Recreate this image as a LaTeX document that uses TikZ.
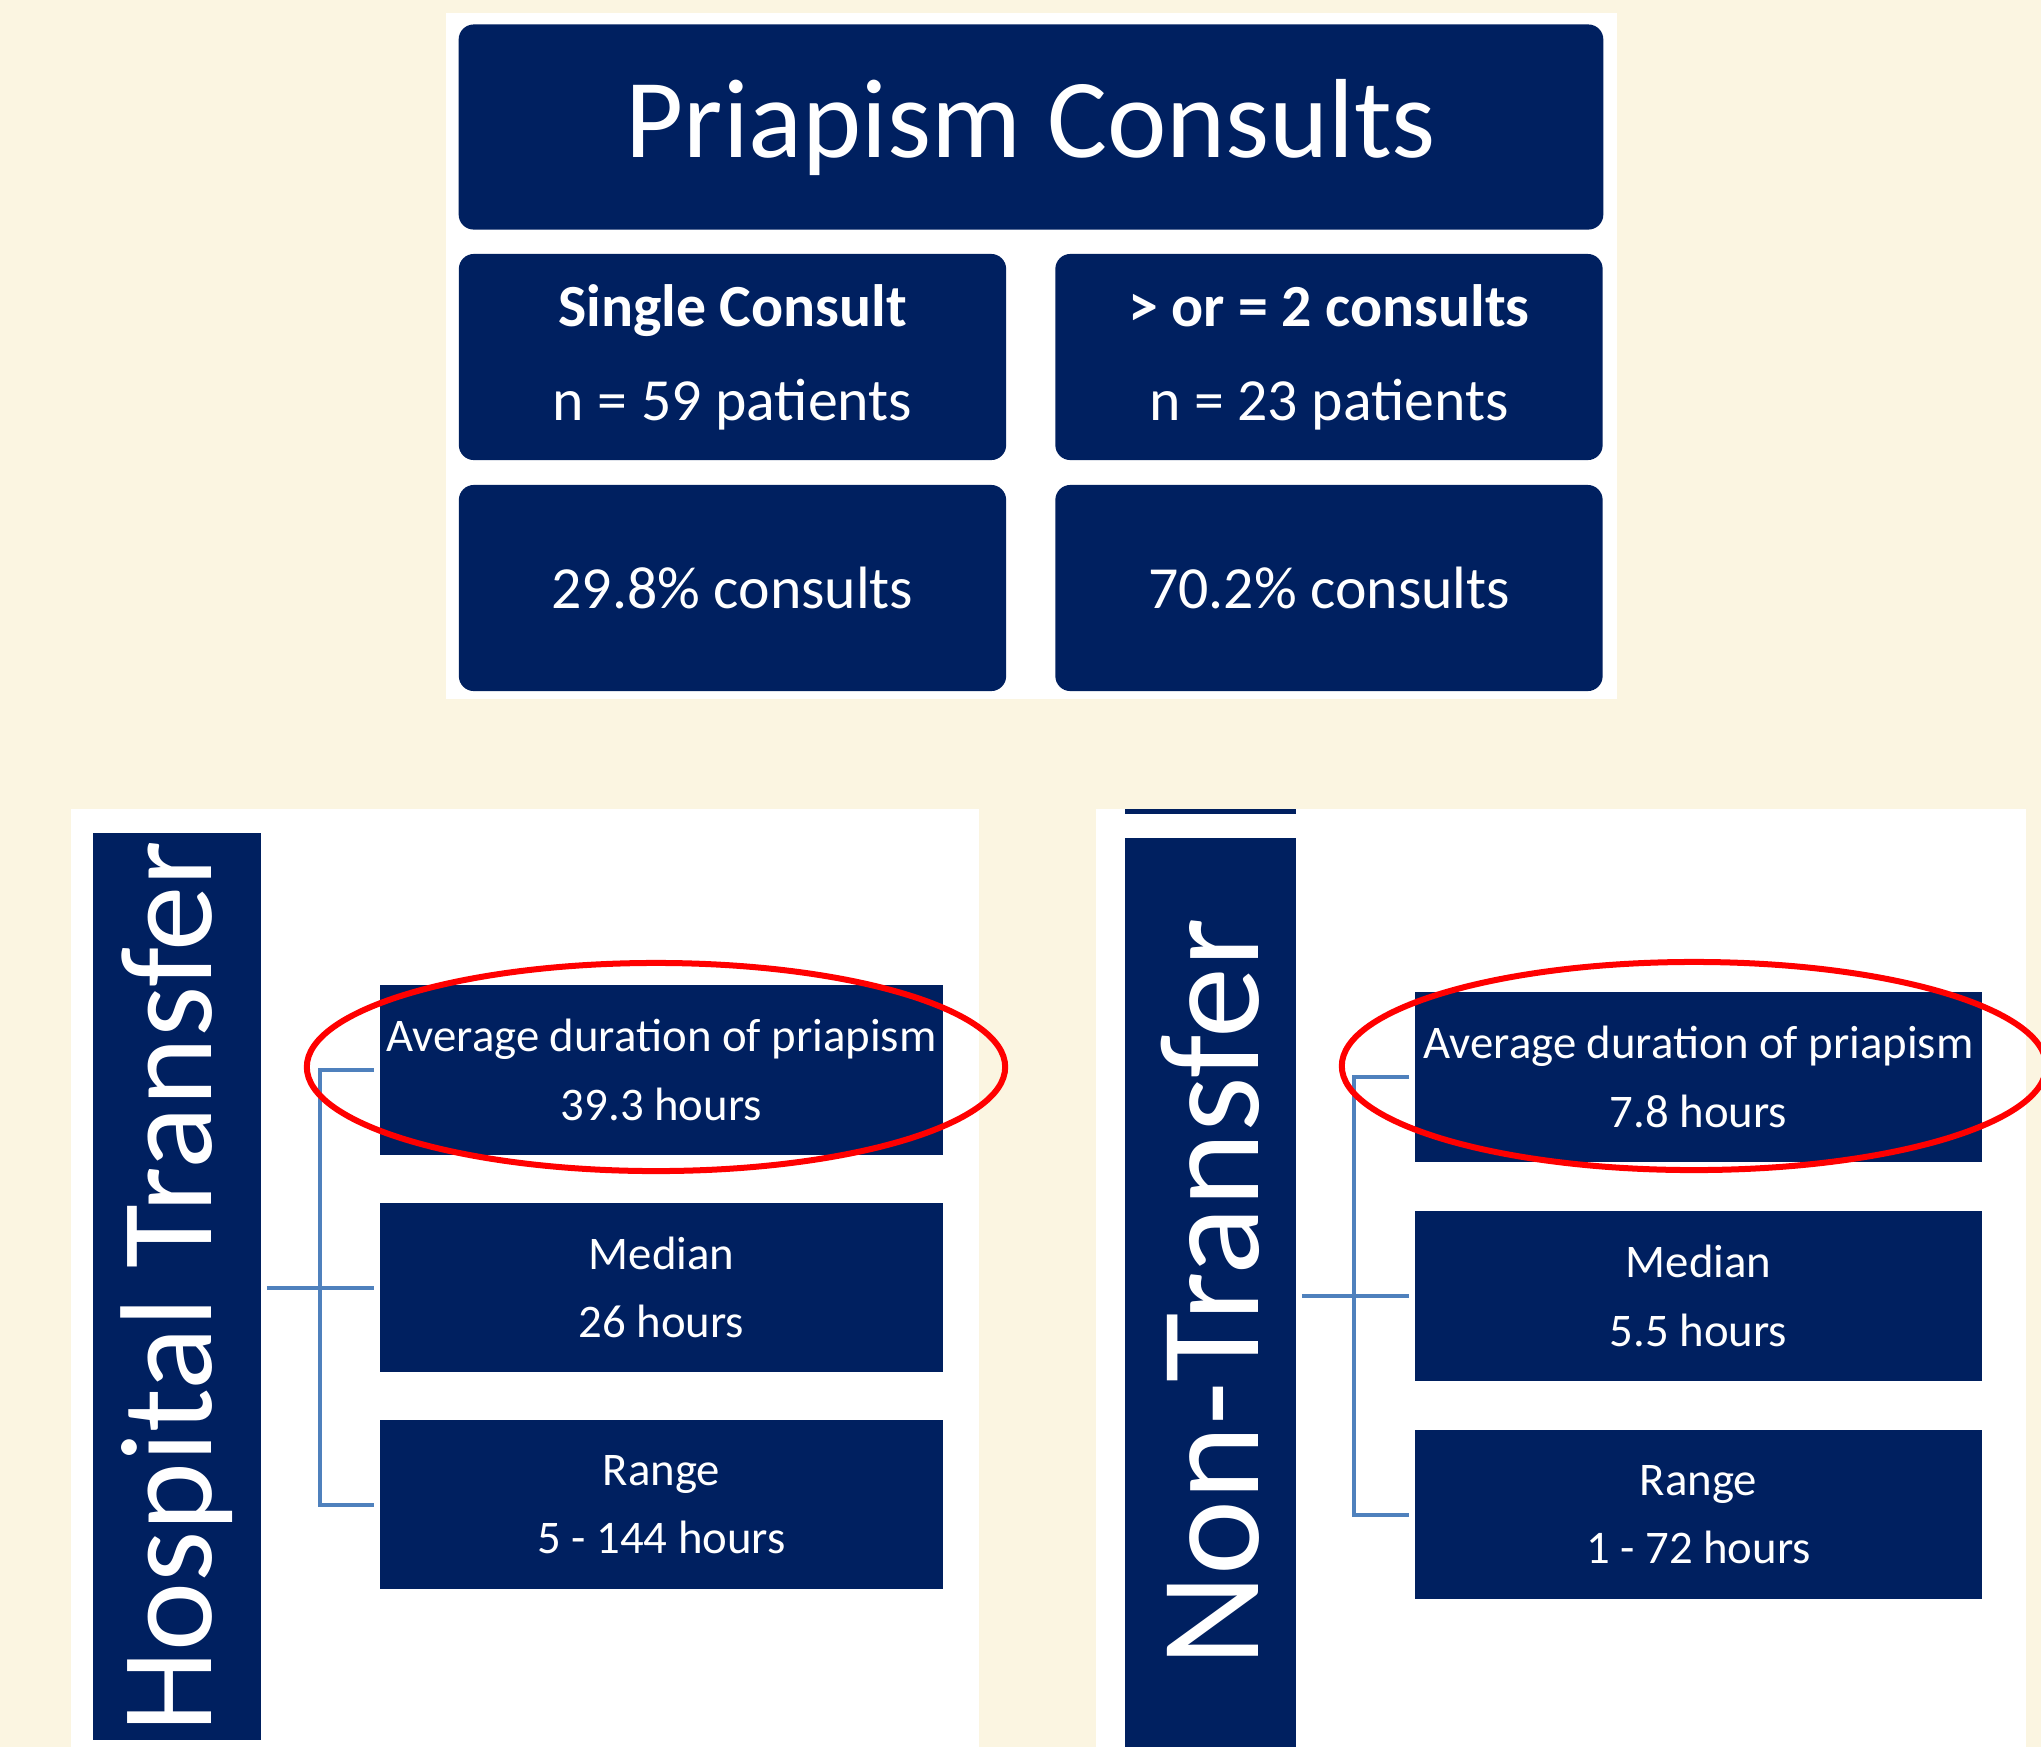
\documentclass[tikz,border=0pt]{standalone}
\usepackage{fontspec}
\setmainfont{Carlito}
\usetikzlibrary{calc}
\definecolor{navy}{HTML}{002060}
\definecolor{cream}{HTML}{FBF5E1}
\definecolor{linkblue}{HTML}{4F81BD}

\begin{document}
\begin{tikzpicture}[x=0.01cm, y=-0.01cm,
  headbox/.style={fill=navy, text=white, rounded corners=0.15cm, inner sep=0pt, minimum width=11.44cm, minimum height=2.05cm, font=\fontsize{32}{38}\selectfont},
  countbox/.style={fill=navy, text=white, rounded corners=0.15cm, inner sep=0pt, minimum width=5.47cm, minimum height=2.06cm, align=center, font=\fontsize{17}{26.7}\selectfont},
  statbox/.style={fill=navy, text=white, inner sep=0pt, minimum width=5.63cm, minimum height=1.69cm, align=center, font=\fontsize{13.3}{19.4}\selectfont},
  sidebar/.style={fill=navy, text=white, rotate=90, inner sep=0pt},
  link/.style={draw=linkblue, line width=0.04cm, shorten <=0.05cm, shorten >=0.05cm},
  ring/.style={draw=red, line width=0.06cm}]
\fill[cream] (0,0) rectangle (2041,1747);
\useasboundingbox (0,0) rectangle (2041,1747);
\clip (0,0) rectangle (2041,1747);

\fill[white] (446,13) rectangle (1617,699);
\node[headbox] (head) at (1031,127) {Priapism Consults};
\node[countbox] (single) at (732.5,357) {\textbf{Single Consult}\\n = 59 patients};
\node[countbox] (multi) at (1329,357) {\textbf{> or = 2 consults}\\n = 23 patients};
\node[countbox] (singlepct) at (732.5,588) {29.8\% consults};
\node[countbox] (multipct) at (1329,588) {70.2\% consults};

\fill[white] (71,809) rectangle (979,1747);
\node[sidebar, minimum width=9.07cm, minimum height=1.68cm, font=\fontsize{37.2}{42}\selectfont] (hosp) at (177,1286.5) {Hospital Transfer};
\foreach \nm/\yc/\la/\lb in {avgH/1070/Average duration of priapism/39.3 hours, medH/1287.5/Median/26 hours, rngH/1504.5/Range/5 - 144 hours}
  \node[statbox] (\nm) at (661.5,\yc) {\la\\\lb};
\coordinate (jH) at (320,1287.5);
\draw[link] (avgH.west) -- (avgH.west -| jH) -- (rngH.west -| jH) -- (rngH.west);
\draw[link] (hosp.south |- medH.west) -- (medH.west);
\draw[ring] (656,1067) ellipse [x radius=3.49cm, y radius=1.04cm];

\fill[white] (1096,809) rectangle (2026,1747);
\fill[navy] (1125,809) rectangle (1296,814);
\node[sidebar, minimum width=9.09cm, minimum height=1.71cm, font=\fontsize{40.4}{46}\selectfont] (nontr) at (1210.5,1292.5) {Non-Transfer};
\foreach \nm/\yc/\la/\lb in {avgN/1077/Average duration of priapism/7.8 hours, medN/1296/Median/5.5 hours, rngN/1514.5/Range/1 - 72 hours}
  \node[statbox, minimum width=5.67cm] (\nm) at (1698.5,\yc) {\la\\\lb};
\coordinate (jN) at (1354,1296);
\draw[link] (avgN.west) -- (avgN.west -| jN) -- (rngN.west -| jN) -- (rngN.west);
\draw[link] (nontr.south |- medN.west) -- (medN.west);
\draw[ring] (1694,1066) ellipse [x radius=3.52cm, y radius=1.04cm];
\end{tikzpicture}
\end{document}
